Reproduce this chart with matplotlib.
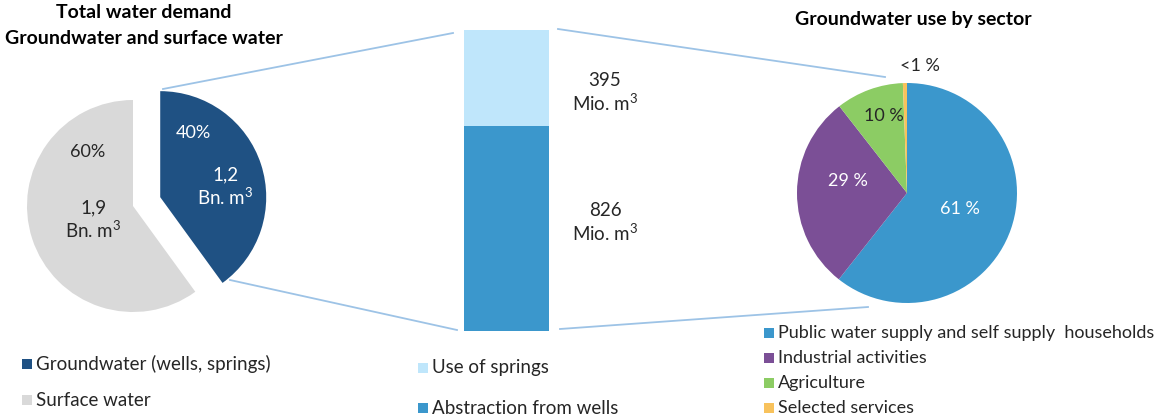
import matplotlib
matplotlib.use("Agg")
import matplotlib.pyplot as plt
from matplotlib.patches import Rectangle

plt.rcParams["mathtext.fontset"] = "custom"
plt.rcParams["mathtext.rm"] = "Lato"
plt.rcParams["mathtext.it"] = "Lato"

# ---------------- data ----------------
total_labels = ["Groundwater (wells, springs)", "Surface water"]
total_share = [40, 60]
total_volume = ["1,2\nBn. m$^{3}$", "1,9\nBn. m$^{3}$"]

gw_labels = ["Abstraction from wells", "Use of springs"]
gw_share = [68, 32]
gw_volume = ["826\nMio. m$^{3}$", "395\nMio. m$^{3}$"]

sector_labels = ["Public water supply and self supply  households",
                 "Industrial activities", "Agriculture", "Selected services"]
sector_share = [61, 29, 10, 0.6]
sector_text = ["61 %", "29 %", "10 %", "<1 %"]

# ---------------- style ----------------
C_GW = "#1F5183"
C_SURF = "#D9D9D9"
C_WELLS = "#3B97CC"
C_SPRINGS = "#BFE6FB"
C_SECT = ["#3B97CC", "#7B4F96", "#8CCC64", "#F8C25C"]
C_LINE = "#9DC3E6"
C_TXT = "#262626"
FONT = "Lato"

W, H = 1164, 416
fig = plt.figure(figsize=(W / 100, H / 100), dpi=100)
ax = fig.add_axes([0, 0, 1, 1])

def Y(py):
    return H - py

# ---- left pie ----
r1 = 106
ax.pie(total_share, colors=[C_GW, C_SURF], startangle=90, counterclock=False,
       explode=[0.27 * r1, 0], radius=r1, center=(133, Y(206)),
       wedgeprops=dict(linewidth=0))

# ---- right pie ----
r2 = 110
ax.pie(sector_share, colors=C_SECT, startangle=90, counterclock=False,
       radius=r2, center=(907, Y(193)), wedgeprops=dict(linewidth=0))

ax.set_xlim(0, W)
ax.set_ylim(0, H)
ax.set_aspect("equal")
ax.axis("off")

# connector lines
for (x0, y0), (x1, y1) in [((163, 89), (453, 33)), ((230, 280), (457, 330)),
                           ((558, 29), (885, 77)), ((560, 329), (868, 307))]:
    ax.plot([x0, x1], [Y(y0), Y(y1)], color=C_LINE, lw=1.3, zorder=0)

# ---- middle stacked bar ----
bx0, bx1, by_top, by_bot = 464, 549, 30, 331
bax = fig.add_axes([bx0 / W, (H - by_bot) / H, (bx1 - bx0) / W, (by_bot - by_top) / H])
bottom = 0
for v, c in zip(gw_share, [C_WELLS, C_SPRINGS]):
    bax.bar(0, v, bottom=bottom, width=1.0, color=c, linewidth=0)
    bottom += v
bax.set_xlim(-0.5, 0.5)
bax.set_ylim(0, sum(gw_share))
bax.axis("off")

fs = 13
vfs = 13.5
# bar labels
ax.text(505, Y(235), f"{gw_share[0]} %", color="white", ha="center", va="center", fontsize=fs, family=FONT)
ax.text(505, Y(77), f"{gw_share[1]} %", color=C_TXT, ha="center", va="center", fontsize=fs, family=FONT)
ax.text(605, Y(223), gw_volume[0], color=C_TXT, ha="center", va="center", fontsize=vfs, family=FONT, linespacing=1.2)
ax.text(605, Y(93), gw_volume[1], color=C_TXT, ha="center", va="center", fontsize=vfs, family=FONT, linespacing=1.2)

# left pie labels
ax.text(193, Y(133), f"{total_share[0]}%", color="white", ha="center", va="center", fontsize=fs, family=FONT)
ax.text(225, Y(187), total_volume[0], color="white", ha="center", va="center", fontsize=vfs, family=FONT, linespacing=1.2)
ax.text(88, Y(152), f"{total_share[1]}%", color=C_TXT, ha="center", va="center", fontsize=fs, family=FONT)
ax.text(93, Y(220), total_volume[1], color=C_TXT, ha="center", va="center", fontsize=vfs, family=FONT, linespacing=1.2)

# right pie labels
for (x, y), t, c in zip([(960, 209), (848, 181), (884, 116), (920, 66)], sector_text,
                        ["white", "white", C_TXT, C_TXT]):
    ax.text(x, Y(y), t, color=c, ha="center", va="center", fontsize=fs, family=FONT)

# titles
tfs = 14
ax.text(144, Y(13), "Total water demand", ha="center", va="center", fontsize=tfs, fontweight="bold", family=FONT, color="black")
ax.text(144, Y(38), "Groundwater and surface water", ha="center", va="center", fontsize=tfs, fontweight="bold", family=FONT, color="black")
ax.text(913, Y(19), "Groundwater use by sector", ha="center", va="center", fontsize=tfs, fontweight="bold", family=FONT, color="black")

# legends
def legend_item(x, y, color, label, size=13.5):
    ax.add_patch(Rectangle((x, Y(y) - 5), 10, 10, color=color, lw=0))
    ax.text(x + 14, Y(y), label, ha="left", va="center", fontsize=size, family=FONT, color=C_TXT)

legend_item(22, 364, C_GW, total_labels[0])
legend_item(22, 400, C_SURF, total_labels[1])
legend_item(418, 368, C_SPRINGS, gw_labels[1])
legend_item(418, 408, C_WELLS, gw_labels[0])
for i, (lab, c) in enumerate(zip(sector_labels, C_SECT)):
    legend_item(764, 333 + 25 * i, c, lab, size=13)

fig.savefig("out.png", dpi=100)
